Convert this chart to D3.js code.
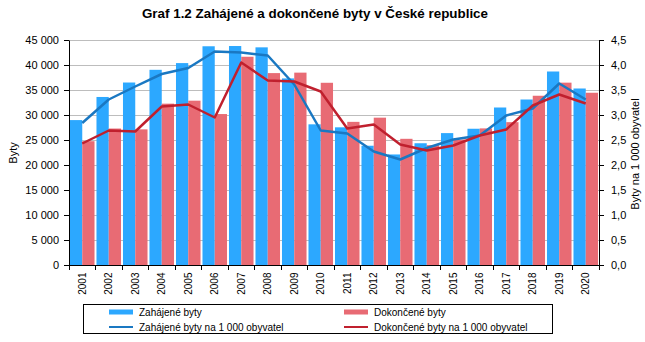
<!DOCTYPE html>
<html>
<head>
<meta charset="utf-8">
<script src="https://cdn.jsdelivr.net/npm/d3@7"></script>
<style>
  html, body { margin: 0; padding: 0; background: #fff; }
  svg { display: block; font-family: "Liberation Sans", Arial, sans-serif; }
</style>
</head>
<body>
<svg id="chart" width="645" height="342"></svg>
<script>
// Housing construction in the Czech Republic, 2001–2020
const years = ["2001","2002","2003","2004","2005","2006","2007","2008","2009","2010",
               "2011","2012","2013","2014","2015","2016","2017","2018","2019","2020"];
const started = [28983, 33606, 36496, 39037, 40381, 43747, 43796, 43531, 37319, 28135,
                 27535, 23853, 22108, 24351, 26378, 27251, 31500, 33100, 38700, 35300];
const completed = [24759, 27291, 27127, 32268, 32863, 30190, 41649, 38380, 38473, 36442,
                   28630, 29467, 25238, 23954, 25095, 27322, 28569, 33850, 36470, 34450];
const startedPer1000 = [2.84, 3.31, 3.57, 3.82, 3.94, 4.27, 4.25, 4.19, 3.61, 2.69,
                        2.63, 2.27, 2.11, 2.34, 2.51, 2.59, 2.99, 3.13, 3.63, 3.31];
const completedPer1000 = [2.43, 2.69, 2.67, 3.17, 3.21, 2.95, 4.05, 3.69, 3.67, 3.47,
                          2.73, 2.81, 2.41, 2.29, 2.39, 2.59, 2.71, 3.19, 3.41, 3.23];
const leftTicks = [0, 5000, 10000, 15000, 20000, 25000, 30000, 35000, 40000, 45000];
const rightTicks = [0, 0.5, 1, 1.5, 2, 2.5, 3, 3.5, 4, 4.5];

const colors = {
  startedBar: "#2CA8FF",
  completedBar: "#E86B74",
  startedLine: "#1A78C2",
  completedLine: "#C0202E"
};

const svg = d3.select("#chart");
const m = { left: 69, right: 599, top: 40, bottom: 265 };

const x = d3.scaleBand().domain(years).range([m.left, m.right]).paddingInner(0).paddingOuter(0);
const inner = d3.scaleBand().domain(["s", "c"]).range([0, x.bandwidth()]).paddingInner(0).paddingOuter(0.08);
const yL = d3.scaleLinear().domain([0, 45000]).range([m.bottom, m.top]);
const yR = d3.scaleLinear().domain([0, 4.5]).range([m.bottom, m.top]);

const fmtL = v => v === 0 ? "0" : d3.format(",")(v).replace(/,/g, " ");
const fmtR = v => d3.format(".1f")(v).replace(".", ",");

// Title
svg.append("text")
  .attr("x", 315).attr("y", 18)
  .attr("text-anchor", "middle")
  .attr("font-size", 13.4).attr("font-weight", "bold")
  .text("Graf 1.2 Zahájené a dokončené byty v České republice");

// Gridlines
svg.append("g").selectAll("line")
  .data(leftTicks.filter(t => t > 0))
  .join("line")
  .attr("x1", m.left).attr("x2", m.right)
  .attr("y1", d => yL(d)).attr("y2", d => yL(d))
  .attr("stroke", "#BDBDBD").attr("stroke-width", 1)
  .attr("shape-rendering", "crispEdges");

// Bars
const groups = svg.append("g").selectAll("g")
  .data(years.map((yr, i) => ({ yr, s: started[i], c: completed[i] })))
  .join("g")
  .attr("transform", d => `translate(${x(d.yr)},0)`);

groups.append("rect")
  .attr("x", inner("s")).attr("width", inner.bandwidth())
  .attr("y", d => yL(d.s)).attr("height", d => yL(0) - yL(d.s))
  .attr("fill", colors.startedBar);
groups.append("rect")
  .attr("x", inner("c")).attr("width", inner.bandwidth())
  .attr("y", d => yL(d.c)).attr("height", d => yL(0) - yL(d.c))
  .attr("fill", colors.completedBar);

// Lines (per 1 000 inhabitants)
const line = d3.line()
  .x((d, i) => x(years[i]) + x.bandwidth() / 2)
  .y(d => yR(d));

svg.append("path").datum(startedPer1000)
  .attr("d", line).attr("fill", "none")
  .attr("stroke", colors.startedLine).attr("stroke-width", 2.5)
  .attr("stroke-linejoin", "round");
svg.append("path").datum(completedPer1000)
  .attr("d", line).attr("fill", "none")
  .attr("stroke", colors.completedLine).attr("stroke-width", 2.5)
  .attr("stroke-linejoin", "round");

// Left axis
const axL = svg.append("g")
  .attr("transform", `translate(${m.left},0)`)
  .call(d3.axisLeft(yL).tickValues(leftTicks).tickFormat(fmtL).tickSize(5).tickSizeOuter(0));
axL.select(".domain").attr("stroke", "#000");
axL.selectAll("text").attr("font-size", 11).attr("fill", "#000")
  .attr("font-family", "Liberation Sans, Arial, sans-serif").attr("x", -10);

// Right axis
const axR = svg.append("g")
  .attr("transform", `translate(${m.right},0)`)
  .call(d3.axisRight(yR).tickValues(rightTicks).tickFormat(fmtR).tickSize(5).tickSizeOuter(0));
axR.select(".domain").attr("stroke", "#000");
axR.selectAll("text").attr("font-size", 11).attr("fill", "#000")
  .attr("font-family", "Liberation Sans, Arial, sans-serif").attr("x", 12);

// Bottom axis with ticks between categories
const axB = svg.append("g").attr("transform", `translate(0,${m.bottom})`);
axB.append("line")
  .attr("x1", m.left).attr("x2", m.right)
  .attr("y1", 0.5).attr("y2", 0.5).attr("stroke", "#000");
axB.selectAll("line.tick")
  .data(years.concat(["end"]))
  .join("line").attr("class", "tick")
  .attr("x1", (d, i) => m.left + i * x.step())
  .attr("x2", (d, i) => m.left + i * x.step())
  .attr("y1", 0).attr("y2", 5).attr("stroke", "#000")
  .attr("shape-rendering", "crispEdges");
axB.selectAll("text")
  .data(years)
  .join("text")
  .attr("transform", d => `translate(${x(d) + x.bandwidth() / 2 + 3.5},7.5) rotate(-90)`)
  .attr("text-anchor", "end")
  .attr("font-size", 10)
  .text(d => d);

// Axis titles
svg.append("text")
  .attr("transform", "translate(17,153) rotate(-90)")
  .attr("text-anchor", "middle").attr("font-size", 11)
  .text("Byty");
svg.append("text")
  .attr("transform", "translate(639,154) rotate(-90)")
  .attr("text-anchor", "middle").attr("font-size", 11)
  .text("Byty na 1 000 obyvatel");

// Legend
const lg = svg.append("g");
lg.append("rect")
  .attr("x", 83.5).attr("y", 304.5).attr("width", 469).attr("height", 29)
  .attr("fill", "#fff").attr("stroke", "#000");
const legendItems = [
  { label: "Zahájené byty", type: "bar", color: colors.startedBar, x: 109, y: 312 },
  { label: "Dokončené byty", type: "bar", color: colors.completedBar, x: 344, y: 312 },
  { label: "Zahájené byty na 1 000 obyvatel", type: "line", color: colors.startedLine, x: 109, y: 327 },
  { label: "Dokončené byty na 1 000 obyvatel", type: "line", color: colors.completedLine, x: 344, y: 327 }
];
legendItems.forEach(d => {
  if (d.type === "bar") {
    lg.append("rect").attr("x", d.x).attr("y", d.y - 2.5).attr("width", 24).attr("height", 5).attr("fill", d.color);
  } else {
    lg.append("line").attr("x1", d.x).attr("x2", d.x + 24).attr("y1", d.y).attr("y2", d.y)
      .attr("stroke", d.color).attr("stroke-width", 2);
  }
  lg.append("text").attr("x", d.x + 30).attr("y", d.y + 3.5).attr("font-size", 10).text(d.label);
});
</script>
</body>
</html>
